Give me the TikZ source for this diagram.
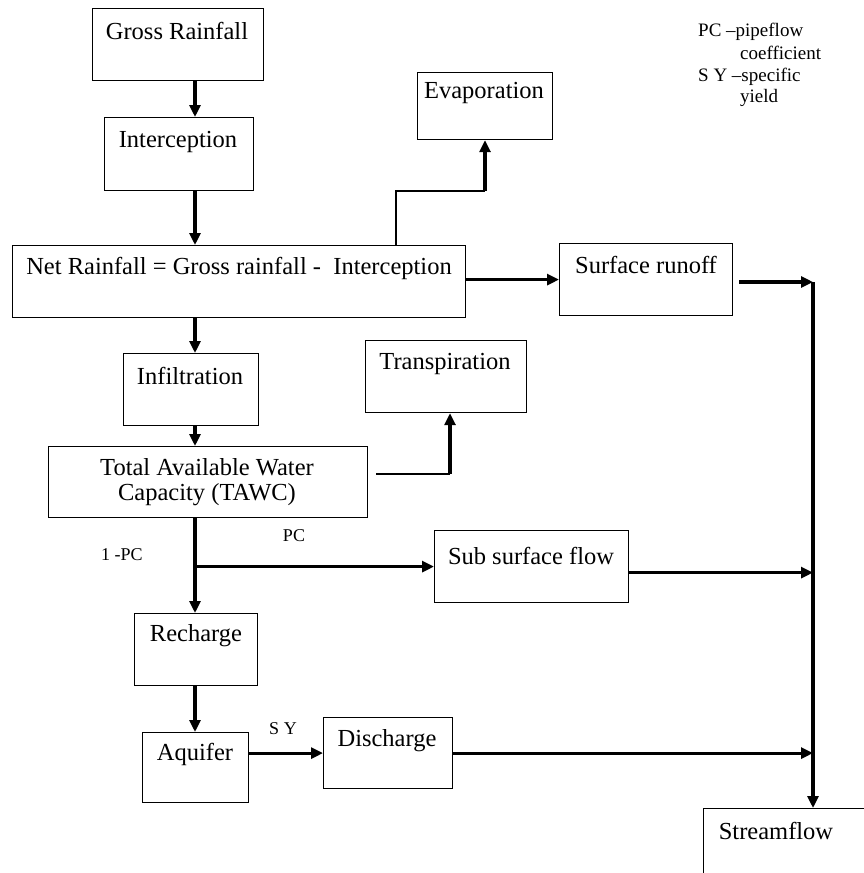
\documentclass[tikz,border=0pt]{standalone}
\usepackage{fontspec}
\setmainfont{Liberation Serif}
\usetikzlibrary{arrows.meta}
\tikzset{
  x=1pt, y=1pt,
  box/.style={draw, line width=1.2pt, rectangle, anchor=north west, inner sep=0pt},
  txt/.style={inner sep=0pt, font=\fontsize{24.5}{28}\selectfont, align=center},
  lbl/.style={inner sep=0pt, font=\fontsize{18}{22}\selectfont},
  leg/.style={inner sep=0pt, anchor=west, font=\fontsize{19}{22}\selectfont},
  arr/.style={line width=3.2pt, -{Triangle[length=12pt,width=11pt]}},
  thinln/.style={line width=1.5pt},
}
\begin{document}
\begin{tikzpicture}
\useasboundingbox[fill=white] (0,0) rectangle (863,-873);
% boxes
\node[box, minimum width=171pt, minimum height=72pt] (gross) at (92,-8) {};
\node[txt] (grosst) at (177,-31) {Gross Rainfall};
\node[box, minimum width=149pt, minimum height=73pt] (interc) at (104,-117) {};
\node[txt] (interct) at (178,-142) {Interception};
\node[box, minimum width=135pt, minimum height=67pt] (evap) at (417,-72) {};
\node[txt] (evapt) at (484,-93) {Evaporation};
\node[box, minimum width=453pt, minimum height=72pt] (net) at (12,-245) {};
\node[txt] (nett) at (239,-268) {Net Rainfall = Gross rainfall -\ \ Interception};
\node[box, minimum width=173pt, minimum height=72pt] (surf) at (559,-243) {};
\node[txt] (surft) at (646,-265) {Surface runoff};
\node[box, minimum width=135pt, minimum height=72pt] (infil) at (123,-353) {};
\node[txt] (infilt) at (190,-376) {Infiltration};
\node[box, minimum width=161pt, minimum height=72pt] (transp) at (365,-340) {};
\node[txt] (transpt) at (445,-364) {Transpiration};
\node[box, minimum width=319pt, minimum height=71pt] (tawc) at (48,-446) {};
\node[txt] (tawct1) at (207,-467) {Total Available Water};
\node[txt] (tawct2) at (207,-495) {Capacity (TAWC)};
\node[box, minimum width=194pt, minimum height=72pt] (subs) at (434,-530) {};
\node[txt] (subst) at (531,-556) {Sub surface flow};
\node[box, minimum width=123pt, minimum height=72pt] (rech) at (134,-613) {};
\node[txt] (recht) at (196,-636) {Recharge};
\node[box, minimum width=106pt, minimum height=70pt] (aquif) at (142,-732) {};
\node[txt] (aquift) at (195,-754) {Aquifer};
\node[box, minimum width=129pt, minimum height=71pt] (disch) at (323,-717) {};
\node[txt] (discht) at (387,-741) {Discharge};
\node[box, minimum width=180pt, minimum height=90pt] (stream) at (703,-808) {};
\node[txt] (streamt) at (776,-831) {Streamflow};
% labels
\node[lbl] (pc) at (294,-536) {PC};
\node[lbl] (onepc) at (122,-555) {1 -PC};
\node[lbl] (sy) at (283,-729) {S Y};
\node[leg] (leg1) at (698,-32) {PC --pipeflow};
\node[leg] (leg2) at (740,-53) {coefficient};
\node[leg] (leg3) at (698,-77) {S Y --specific};
\node[leg] (leg4) at (740,-98) {yield};
% coordinates
\coordinate (cx) at (195,0);
\coordinate (col) at (813,-282);
\coordinate (e1) at (396,-191);
\coordinate (e2) at (485,-191);
\coordinate (t1) at (376,-474);
\coordinate (t2) at (450,-474);
% vertical chain
\draw[arr] (gross.south -| cx) -- (interc.north -| cx);
\draw[arr] (interc.south -| cx) -- (net.north -| cx);
\draw[arr] (net.south -| cx) -- (infil.north -| cx);
\draw[arr] (infil.south -| cx) -- (tawc.north -| cx);
\draw[arr] (tawc.south -| cx) -- (rech.north -| cx);
\draw[arr] (subs.west -| cx) -- (subs.west);
\draw[arr] (rech.south -| cx) -- (aquif.north -| cx);
\draw[arr] (aquif.east |- disch.west) -- (disch.west);
% net to surface runoff
\draw[arr] (net.east |- surf.west) -- (surf.west);
% evaporation
\draw[thinln] (net.north -| e1) -- (e1) -- (e2);
\draw[arr] (e2) -- (evap.south -| e2);
% transpiration
\draw[thinln] (t1) -- (t2);
\draw[arr] (t2) -- (transp.south -| t2);
% collector
\draw[arr] ([xshift=6pt]surf.east |- col) -- (col);
\draw[arr] (col) -- (stream.north -| col);
\draw[arr] ([yshift=-6pt]subs.east) -- ([yshift=-6pt]subs.east -| col);
\draw[arr] (disch.east) -- (disch.east -| col);
\end{tikzpicture}
\end{document}
